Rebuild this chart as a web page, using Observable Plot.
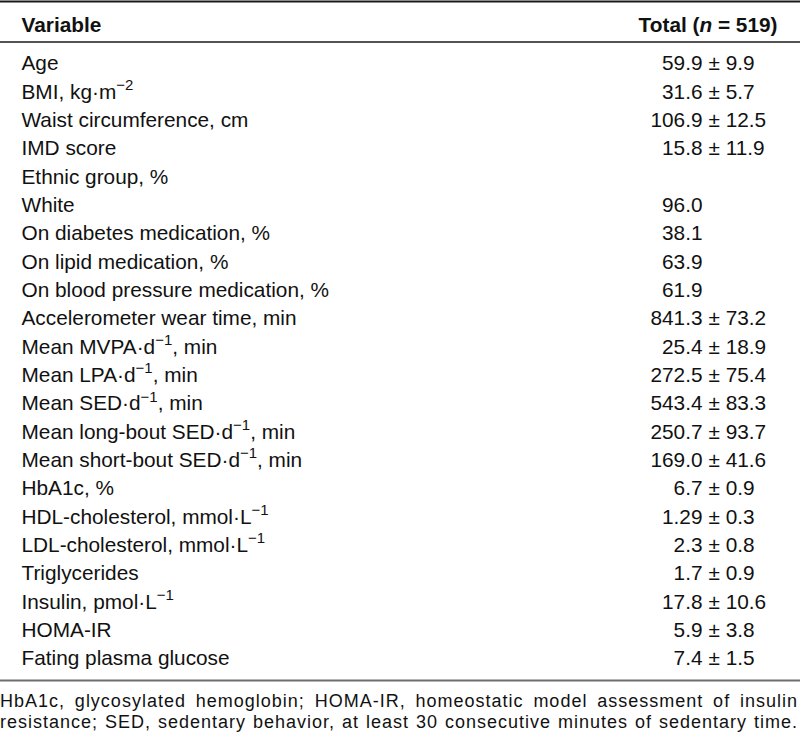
<!DOCTYPE html>
<html>
<head>
<meta charset="utf-8">
<script src="https://cdn.jsdelivr.net/npm/d3@7"></script>
<script src="https://cdn.jsdelivr.net/npm/@observablehq/plot@0.6"></script>
<style>
  html, body { margin: 0; padding: 0; background: #fff; }
  #fig { width: 800px; }
  #fig svg { display: block; }
  .note {
    font-family: "Liberation Sans", Arial, sans-serif;
    font-size: 18px; line-height: 21px; color: #111;
    margin: 7px 0 0 0; letter-spacing: 1.0px; width: 798px;
  }
  .note div { text-align: justify; text-align-last: justify; white-space: nowrap; }
</style>
</head>
<body>
<div id="fig"></div>
<script>
// ---- data ----
const headers = ["Variable", "Total (*{n} = 519)"];
const variables = [
  "Age",
  "BMI, kg·m^{−2}",
  "Waist circumference, cm",
  "IMD score",
  "Ethnic group, %",
  "White",
  "On diabetes medication, %",
  "On lipid medication, %",
  "On blood pressure medication, %",
  "Accelerometer wear time, min",
  "Mean MVPA·d^{−1}, min",
  "Mean LPA·d^{−1}, min",
  "Mean SED·d^{−1}, min",
  "Mean long-bout SED·d^{−1}, min",
  "Mean short-bout SED·d^{−1}, min",
  "HbA1c, %",
  "HDL-cholesterol, mmol·L^{−1}",
  "LDL-cholesterol, mmol·L^{−1}",
  "Triglycerides",
  "Insulin, pmol·L^{−1}",
  "HOMA-IR",
  "Fating plasma glucose"
];
const means = ["59.9", "31.6", "106.9", "15.8", "", "96.0", "38.1", "63.9", "61.9", "841.3", "25.4", "272.5", "543.4", "250.7", "169.0", "6.7", "1.29", "2.3", "1.7", "17.8", "5.9", "7.4"];
const sds   = ["9.9", "5.7", "12.5", "11.9", "", "", "", "", "", "73.2", "18.9", "75.4", "83.3", "93.7", "41.6", "0.9", "0.3", "0.8", "0.9", "10.6", "3.8", "1.5"];
const footnoteLines = [
  "HbA1c, glycosylated hemoglobin; HOMA-IR, homeostatic model assessment of insulin",
  "resistance; SED, sedentary behavior, at least 30 consecutive minutes of sedentary time."
];

// ---- build table rows ----
const rows = variables.map((v, i) => ({
  variable: v,
  mean: means[i] || null,
  sd: sds[i] ? "± " + sds[i] : null
}));

const FONT = '"Liberation Sans", Arial, sans-serif';
const FS = 20.8;
const first = variables[0];
const last = variables[variables.length - 1];

const svg = Plot.plot({
  width: 800,
  height: 684,
  margin: 0,
  style: { fontFamily: FONT, fontSize: FS + "px", background: "#fff", color: "#111" },
  y: { type: "point", domain: variables, range: [63.3, 658.3], padding: 0, round: false, axis: null },
  marks: [
    Plot.ruleY([first], { y: d => d, dy: -62.3, stroke: "#1a1a1a", strokeWidth: 2 }),
    Plot.ruleY([first], { y: d => d, dy: -21.8, stroke: "#1a1a1a", strokeWidth: 1.6 }),
    Plot.ruleY([last], { y: d => d, dy: 21.7, stroke: "#6e6e6e", strokeWidth: 2 }),
    Plot.text([headers[0]], { frameAnchor: "left", dx: 21, y: () => first, dy: -38, text: d => d, textAnchor: "start", fontWeight: "bold", fontSize: FS, fill: "#111" }),
    Plot.text([headers[1]], { frameAnchor: "right", dx: -23, y: () => first, dy: -38, text: d => d, textAnchor: "end", fontWeight: "bold", fontSize: FS, fill: "#111" }),
    Plot.text(rows, { frameAnchor: "left", dx: 21, y: "variable", text: "variable", textAnchor: "start", fontSize: FS, fill: "#111" }),
    Plot.text(rows, { frameAnchor: "right", dx: -98, y: "variable", text: "mean", textAnchor: "end", fontSize: FS, fill: "#111" }),
    Plot.text(rows, { frameAnchor: "right", dx: -92, y: "variable", text: "sd", textAnchor: "start", fontSize: FS, fill: "#111" })
  ]
});

// ---- rich text: ^{..} superscript, *{..} italic ----
d3.select(svg).selectAll("text").each(function () {
  const el = this;
  const s = el.textContent;
  if (!/[\^*]\{/.test(s)) return;
  const parts = s.split(/([\^*]\{[^}]*\})/).filter(p => p !== "");
  while (el.firstChild) el.removeChild(el.firstChild);
  const shift = FS * 0.42;
  let raised = false;
  for (const p of parts) {
    const t = document.createElementNS("http://www.w3.org/2000/svg", "tspan");
    if (p.startsWith("^{")) {
      t.textContent = p.slice(2, -1);
      t.setAttribute("font-size", FS * 0.72);
      t.setAttribute("dy", -shift);
      raised = true;
    } else if (p.startsWith("*{")) {
      t.textContent = p.slice(2, -1);
      t.setAttribute("font-style", "italic");
      if (raised) { t.setAttribute("dy", shift); raised = false; }
    } else {
      t.textContent = p;
      if (raised) { t.setAttribute("dy", shift); raised = false; }
    }
    el.appendChild(t);
  }
});

const fig = document.getElementById("fig");
fig.appendChild(svg);
const note = document.createElement("div");
note.className = "note";
for (const line of footnoteLines) {
  const d = document.createElement("div");
  d.textContent = line;
  note.appendChild(d);
}
fig.appendChild(note);
</script>
</body>
</html>
